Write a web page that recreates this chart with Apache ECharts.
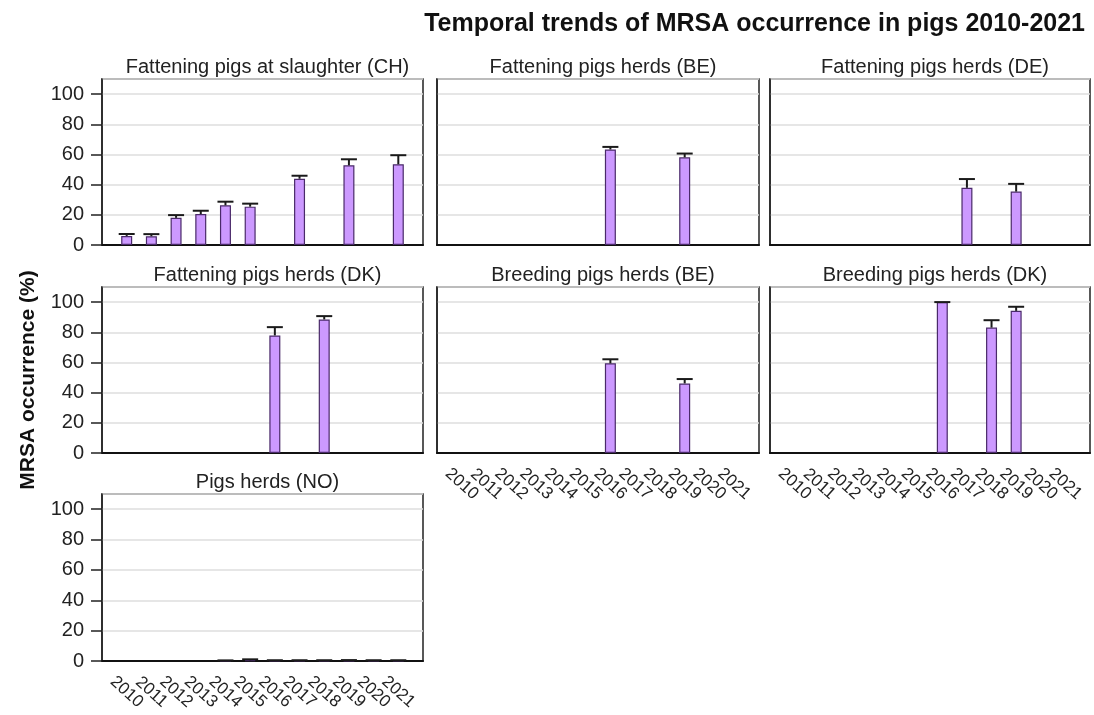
<!DOCTYPE html>
<html>
<head>
<meta charset="utf-8">
<script src="https://cdn.jsdelivr.net/npm/echarts@6/dist/echarts.min.js"></script>
<style>
  html, body { margin: 0; padding: 0; background: #fff; }
  #chart { width: 1094px; height: 715px; }
</style>
</head>
<body>
<div id="chart"></div>
<script>
// Sampling years shared by every panel
const years = [2010, 2011, 2012, 2013, 2014, 2015, 2016, 2017, 2018, 2019, 2020, 2021];
const yTicks = [0, 20, 40, 60, 80, 100];

// MRSA occurrence (%) per year and the upper limit of its confidence interval
const chSlaughter      = [6.0, 5.8, 18.0, 20.5, 26.3, 25.4, null, 43.9, null, 52.8, null, 53.5];
const chSlaughterUpper = [7.3, 7.2, 19.8, 22.7, 28.7, 27.4, null, 45.9, null, 56.8, null, 59.5];

const beFattening      = [null, null, null, null, null, null, 63.3, null, null, 58.1, null, null];
const beFatteningUpper = [null, null, null, null, null, null, 65.0, null, null, 60.6, null, null];

const deFattening      = [null, null, null, null, null, null, null, 37.9, null, 35.4, null, null];
const deFatteningUpper = [null, null, null, null, null, null, null, 43.7, null, 40.5, null, null];

const dkFattening      = [null, null, null, null, null, null, 77.9, null, 88.5, null, null, null];
const dkFatteningUpper = [null, null, null, null, null, null, 83.4, null, 90.7, null, null, null];

const beBreeding       = [null, null, null, null, null, null, 59.4, null, null, 46.1, null, null];
const beBreedingUpper  = [null, null, null, null, null, null, 62.1, null, null, 49.0, null, null];

const dkBreeding       = [null, null, null, null, null, null, 100.0, null, 83.1, 94.2, null, null];
const dkBreedingUpper  = [null, null, null, null, null, null, 100.0, null, 88.0, 96.9, null, null];

const noHerds          = [null, null, null, null, 0.1, 0.5, 0.1, 0.1, 0.1, 0.1, 0.1, 0.1];
const noHerdsUpper     = [null, null, null, null, 0.4, 1.1, 0.5, 0.5, 0.5, 0.6, 0.5, 0.5];

const panelTitles = [
  'Fattening pigs at slaughter (CH)',
  'Fattening pigs herds (BE)',
  'Fattening pigs herds (DE)',
  'Fattening pigs herds (DK)',
  'Breeding pigs herds (BE)',
  'Breeding pigs herds (DK)',
  'Pigs herds (NO)'
];
const panelValues = [chSlaughter, beFattening, deFattening, dkFattening, beBreeding, dkBreeding, noHerds];
const panelUpper  = [chSlaughterUpper, beFatteningUpper, deFatteningUpper, dkFatteningUpper, beBreedingUpper, dkBreedingUpper, noHerdsUpper];

// Panel layout: column/row placement
const colLeft  = [102, 437, 770];
const colWidth = [321, 322, 320];
const rowTop   = [79, 287, 494];
const rowHeight = [166, 166, 167];
const panelPos = [[0, 0], [1, 0], [2, 0], [0, 1], [1, 1], [2, 1], [0, 2]];
// panels whose x labels are shown (bottom of each column)
const showXLabels = [false, false, false, false, true, true, true];

const FONT = '"Liberation Sans", Arial, sans-serif';
const BAR_FILL = '#cc99ff';
const BAR_EDGE = '#4a2a6a';

const grids = [], xAxes = [], yAxes = [], series = [], titles = [];

titles.push({
  text: 'Temporal trends of MRSA occurrence in pigs 2010-2021',
  right: 4, top: 7,
  textStyle: { fontFamily: FONT, fontSize: 25, fontWeight: 'bold', color: '#111' }
});

panelTitles.forEach((name, i) => {
  const [c, r] = panelPos[i];
  grids.push({
    left: colLeft[c], top: rowTop[r], width: colWidth[c], height: rowHeight[r],
    show: true, borderColor: '#222', borderWidth: 1.5, backgroundColor: '#fff'
  });
  titles.push({
    text: name,
    left: colLeft[c] + colWidth[c] / 2,
    top: rowTop[r] - 27,
    textAlign: 'center',
    textStyle: { fontFamily: FONT, fontSize: 20, fontWeight: 'normal', color: '#222' }
  });
  xAxes.push({
    type: 'value', gridIndex: i, min: 2009, max: 2022, interval: 1,
    axisLine: { show: true, onZero: false, lineStyle: { color: '#111', width: 2 } },
    axisTick: { show: false },
    splitLine: { show: false },
    axisLabel: {
      show: showXLabels[i],
      rotate: -42,
      align: 'center',
      verticalAlign: 'middle',
      margin: 31,
      fontFamily: FONT, fontSize: 17, color: '#222',
      formatter: v => (years.indexOf(v) >= 0 ? String(v) : '')
    }
  });
  yAxes.push({
    type: 'value', gridIndex: i, min: 0, max: 110, interval: 20,
    axisLine: { show: true, lineStyle: { color: '#222', width: 1.5 } },
    axisTick: { show: c === 0, length: 11, lineStyle: { color: '#222', width: 1.5 } },
    axisLabel: {
      show: c === 0, margin: 18, showMaxLabel: false,
      fontFamily: FONT, fontSize: 20, color: '#222',
      formatter: v => (yTicks.indexOf(v) >= 0 ? String(v) : '')
    },
    splitLine: {
      show: true,
      lineStyle: { color: '#dedede', width: 1.5 }
    }
  });

  const vals = panelValues[i];
  const ups = panelUpper[i];
  const barData = [];
  const errData = [];
  years.forEach((yr, k) => {
    if (vals[k] !== null) {
      barData.push([yr, vals[k]]);
      errData.push([yr, vals[k], ups[k]]);
    }
  });

  series.push({
    type: 'bar', xAxisIndex: i, yAxisIndex: i,
    data: barData, barWidth: 11,
    itemStyle: { color: BAR_FILL, borderColor: BAR_EDGE, borderWidth: 1.2 },
    silent: true, z: 2
  });
  series.push({
    type: 'custom', xAxisIndex: i, yAxisIndex: i,
    data: errData, z: 5, silent: true,
    encode: { x: 0, y: [1, 2] },
    renderItem: (params, api) => {
      const x = api.value(0);
      const top = api.coord([x, api.value(1)]);
      const up = api.coord([x, api.value(2)]);
      const half = 8;
      const style = { stroke: '#1a1a1a', lineWidth: 2, fill: null };
      return {
        type: 'group',
        children: [
          { type: 'line', shape: { x1: top[0], y1: top[1], x2: up[0], y2: up[1] }, style },
          { type: 'line', shape: { x1: up[0] - half, y1: up[1], x2: up[0] + half, y2: up[1] }, style }
        ]
      };
    }
  });
});

const chart = echarts.init(document.getElementById('chart'), null, { renderer: 'canvas' });
chart.setOption({
  animation: false,
  backgroundColor: '#fff',
  title: titles,
  grid: grids,
  xAxis: xAxes,
  yAxis: yAxes,
  series: series,
  graphic: [{
    type: 'text',
    x: 28, y: 380,
    rotation: Math.PI / 2,
    style: {
      text: 'MRSA occurrence (%)',
      font: 'bold 21px "Liberation Sans", Arial, sans-serif',
      fill: '#111',
      textAlign: 'center',
      textVerticalAlign: 'middle'
    }
  }]
});
</script>
</body>
</html>
